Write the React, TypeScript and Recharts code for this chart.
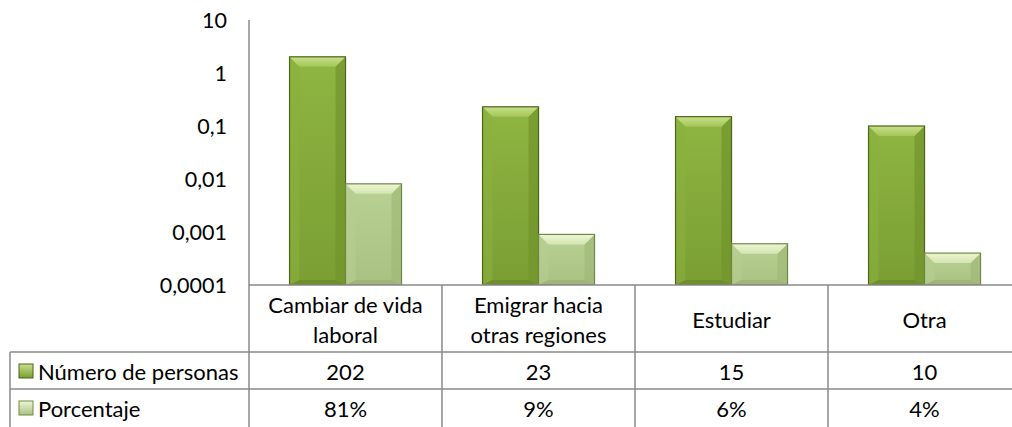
import React from 'react';
import { BarChart, Bar, XAxis, YAxis } from 'recharts';

const categories = ['Cambiar de vida laboral', 'Emigrar hacia otras regiones', 'Estudiar', 'Otra'];
const categoryLines = [['Cambiar de vida', 'laboral'], ['Emigrar hacia', 'otras regiones'], ['Estudiar'], ['Otra']];
const seriesNames = ['Número de personas', 'Porcentaje'];
const personasBars = [2.02, 0.23, 0.15, 0.1];
const porcentajeBars = [0.0081, 0.0009, 0.0006, 0.0004];
const personasLabels = ['202', '23', '15', '10'];
const porcentajeLabels = ['81%', '9%', '6%', '4%'];
const yTicks = [0.0001, 0.001, 0.01, 0.1, 1, 10];
const yTickLabels = ['0,0001', '0,001', '0,01', '0,1', '1', '10'];

const data = categories.map((c, i) => ({
  name: c,
  personas: personasBars[i],
  porcentaje: porcentajeBars[i],
}));

const FONT = 'Lato, "Noto Sans", sans-serif';
const LINE = '#8a8a8a';

const palettes = {
  dark: { out: '#4b6619', body1: '#8fb542', body2: '#7a9e33', left: '#8ab13e', right: '#72942c', bottom: '#68862a', top1: '#c9e08c', top2: '#a2c655' },
  light: { out: '#6e8946', body1: '#b9d193', body2: '#a9c283', left: '#b6ce90', right: '#a0b978', bottom: '#96ae6f', top1: '#eef6d6', top2: '#d3e4b0' },
};

const BevelBar = (props: any) => {
  const { x, y, width, height, pal, gid } = props;
  if (!height || height <= 0) return null;
  const b = Math.min(10, height / 2, width / 3);
  const bb = Math.min(5, height / 4);
  return (
    <g>
      <defs>
        <linearGradient id={`top-${gid}`} x1="0" y1="0" x2="0" y2="1">
          <stop offset="0" stopColor={pal.top1} />
          <stop offset="1" stopColor={pal.top2} />
        </linearGradient>
        <linearGradient id={`body-${gid}`} x1="0" y1="0" x2="0" y2="1">
          <stop offset="0" stopColor={pal.body1} />
          <stop offset="1" stopColor={pal.body2} />
        </linearGradient>
      </defs>
      <rect x={x} y={y} width={width} height={height} fill={`url(#body-${gid})`} />
      <polygon points={`${x},${y} ${x + b},${y + b} ${x + b},${y + height - bb} ${x},${y + height}`} fill={pal.left} opacity={0.6} />
      <polygon points={`${x + width},${y} ${x + width - b},${y + b} ${x + width - b},${y + height - bb} ${x + width},${y + height}`} fill={pal.right} opacity={0.7} />
      <polygon points={`${x},${y + height} ${x + b},${y + height - bb} ${x + width - b},${y + height - bb} ${x + width},${y + height}`} fill={pal.bottom} opacity={0.6} />
      <polygon points={`${x},${y} ${x + width},${y} ${x + width - b},${y + b} ${x + b},${y + b}`} fill={`url(#top-${gid})`} />
      <rect x={x} y={y} width={width} height={height} fill="none" stroke={pal.out} strokeWidth={1.2} />
    </g>
  );
};

const LegendKey = ({ x, y, pal, gid }: any) => (
  <g>
    <defs>
      <linearGradient id={`key-${gid}`} x1="0" y1="0" x2="0" y2="1">
        <stop offset="0" stopColor={pal.top1} />
        <stop offset="1" stopColor={pal.body2} />
      </linearGradient>
    </defs>
    <rect x={x} y={y} width={14} height={14} fill={`url(#key-${gid})`} stroke={pal.out} strokeWidth={1} />
  </g>
);

const TableTick = (props: any) => {
  const { x, y, payload, index, width, visibleTicksCount } = props;
  const band = payload && payload.offset ? payload.offset * 2 : width / visibleTicksCount;
  const left = x - band / 2;
  const right = x + band / 2;
  const top = y;
  const row1 = top + 67;
  const row2 = row1 + 37;
  const bottom = row2 + 45;
  const lines = categoryLines[index] || [];
  const textProps = { fontFamily: FONT, fontSize: 22, fill: '#000', textAnchor: 'middle' as const, dominantBaseline: 'central' as const };
  const legendLeft = 10;
  return (
    <g>
      <line x1={left} y1={top} x2={left} y2={bottom} stroke={LINE} strokeWidth={1.5} />
      <line x1={left} y1={row1} x2={right} y2={row1} stroke={LINE} strokeWidth={1.5} />
      <line x1={left} y1={row2} x2={right} y2={row2} stroke={LINE} strokeWidth={1.5} />
      {lines.length === 2 ? (
        <>
          <text x={x} y={top + 19} {...textProps}>{lines[0]}</text>
          <text x={x} y={top + 49} {...textProps}>{lines[1]}</text>
        </>
      ) : (
        <text x={x} y={top + 34} {...textProps}>{lines[0]}</text>
      )}
      <text x={x} y={row1 + 19} {...textProps}>{personasLabels[index]}</text>
      <text x={x} y={row2 + 19} {...textProps}>{porcentajeLabels[index]}</text>
      {index === 0 && (
        <g>
          <line x1={legendLeft} y1={row1} x2={left} y2={row1} stroke={LINE} strokeWidth={1.5} />
          <line x1={legendLeft} y1={row2} x2={left} y2={row2} stroke={LINE} strokeWidth={1.5} />
          <line x1={legendLeft} y1={row1} x2={legendLeft} y2={bottom} stroke={LINE} strokeWidth={1.5} />
          <LegendKey x={legendLeft + 9} y={row1 + 12} pal={palettes.dark} gid="k0" />
          <LegendKey x={legendLeft + 9} y={row2 + 12} pal={palettes.light} gid="k1" />
          <text x={legendLeft + 28} y={row1 + 19} {...textProps} textAnchor="start">{seriesNames[0]}</text>
          <text x={legendLeft + 28} y={row2 + 19} {...textProps} textAnchor="start">{seriesNames[1]}</text>
        </g>
      )}
    </g>
  );
};

const YTick = (props: any) => {
  const { x, y, payload } = props;
  const i = yTicks.indexOf(payload.value);
  return (
    <text x={x} y={y} textAnchor="end" dominantBaseline="central" fontFamily={FONT} fontSize={21.5} fill="#000">
      {i >= 0 ? yTickLabels[i] : String(payload.value)}
    </text>
  );
};

export default function App() {
  return (
    <div style={{ position: 'absolute', left: 0, top: 0, width: 1012, height: 427, overflow: 'hidden', background: '#fff' }}>
      <BarChart
        width={1030}
        height={440}
        data={data}
        margin={{ top: 20, right: 9, left: 0, bottom: 0 }}
        barCategoryGap="21%"
        barGap={0}
      >
        <XAxis
          dataKey="name"
          height={155}
          interval={0}
          tickLine={false}
          tickSize={0}
          tickMargin={0}
          axisLine={{ stroke: LINE, strokeWidth: 1.5 }}
          tick={<TableTick />}
        />
        <YAxis
          scale="log"
          type="number"
          domain={[0.0001, 10]}
          ticks={yTicks}
          allowDataOverflow
          width={249}
          tickLine={false}
          tickSize={0}
          tickMargin={22}
          axisLine={{ stroke: LINE, strokeWidth: 1.5 }}
          tick={<YTick />}
          interval={0}
        />
        <Bar
          dataKey="personas"
          name={seriesNames[0]}
          isAnimationActive={false}
          shape={(p: any) => <BevelBar {...p} pal={palettes.dark} gid={`d${p.index}`} />}
        />
        <Bar
          dataKey="porcentaje"
          name={seriesNames[1]}
          isAnimationActive={false}
          shape={(p: any) => <BevelBar {...p} pal={palettes.light} gid={`l${p.index}`} />}
        />
      </BarChart>
    </div>
  );
}
